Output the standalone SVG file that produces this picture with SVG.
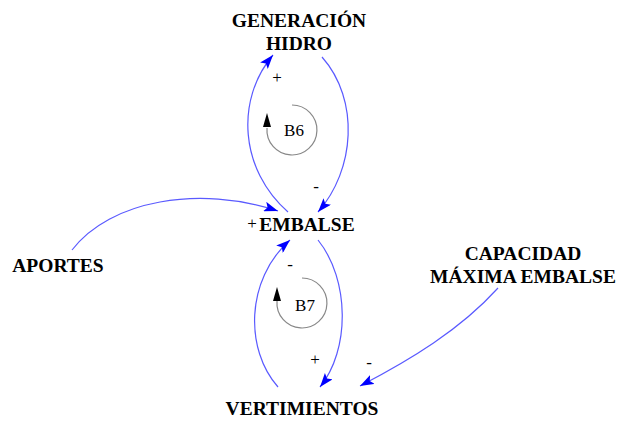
<svg xmlns="http://www.w3.org/2000/svg" width="622" height="422" viewBox="0 0 622 422">
<style>
.n{font-family:"Liberation Serif","Times New Roman",serif;font-weight:bold;font-size:19.5px;fill:#000;text-anchor:middle}
.p{font-family:"Liberation Serif","Times New Roman",serif;font-size:17px;fill:#000;text-anchor:middle}
.l{font-family:"Liberation Serif","Times New Roman",serif;font-size:17px;fill:#000;text-anchor:middle}
.c{fill:none;stroke:#5a5aff;stroke-width:1.2;marker-end:url(#ah)}
.loop{fill:none;stroke:#888;stroke-width:1.2}
</style>
<defs>
<marker id="ah" markerUnits="userSpaceOnUse" markerWidth="15" markerHeight="10" refX="14" refY="5" orient="auto">
<path d="M0,0 L14,5 L0,10 L3,5 Z" fill="#0000ff"/>
</marker>
</defs>
<g id="connectors">
<path class="c" d="M288,212 C240,170 235,100 273,55"/>
<path class="c" d="M322,57 C360,100 355,170 318,212"/>
<path class="c" d="M72,250 C110,200 200,185 278,211"/>
<path class="c" d="M318,240 C350,280 350,350 320,387"/>
<path class="c" d="M278,387 C245,350 245,280 290,240"/>
<path class="c" d="M498,288 C460,330 410,360 360,386"/>
<text class="p" x="277" y="83">+</text>
<text class="p" x="316" y="192">-</text>
<text class="p" x="252" y="229">+</text>
<text class="p" x="290" y="270">-</text>
<text class="p" x="315" y="365">+</text>
<text class="p" x="369" y="368">-</text>
</g>
<g id="loop-B6">
<path class="loop" d="M292,105 A25,25 0 1 1 267,128"/>
<path d="M267,113 L263,127 L271,127 Z" fill="#000"/>
<text class="l" x="294" y="136">B6</text>
</g>
<g id="loop-B7">
<path class="loop" d="M302,278 A25,25 0 1 1 277,301"/>
<path d="M277,287 L273,301 L281,301 Z" fill="#000"/>
<text class="l" x="305" y="311">B7</text>
</g>
<g id="generacion-hidro">
<text class="n" x="299" y="27">GENERACIÓN</text>
<text class="n" x="299" y="50">HIDRO</text>
</g>
<g id="embalse">
<text class="n" x="307" y="231">EMBALSE</text>
</g>
<g id="aportes">
<text class="n" x="58" y="272">APORTES</text>
</g>
<g id="capacidad">
<text class="n" x="523" y="260">CAPACIDAD</text>
<text class="n" x="523" y="283">MÁXIMA EMBALSE</text>
</g>
<g id="vertimientos">
<text class="n" x="302" y="415">VERTIMIENTOS</text>
</g>
</svg>
